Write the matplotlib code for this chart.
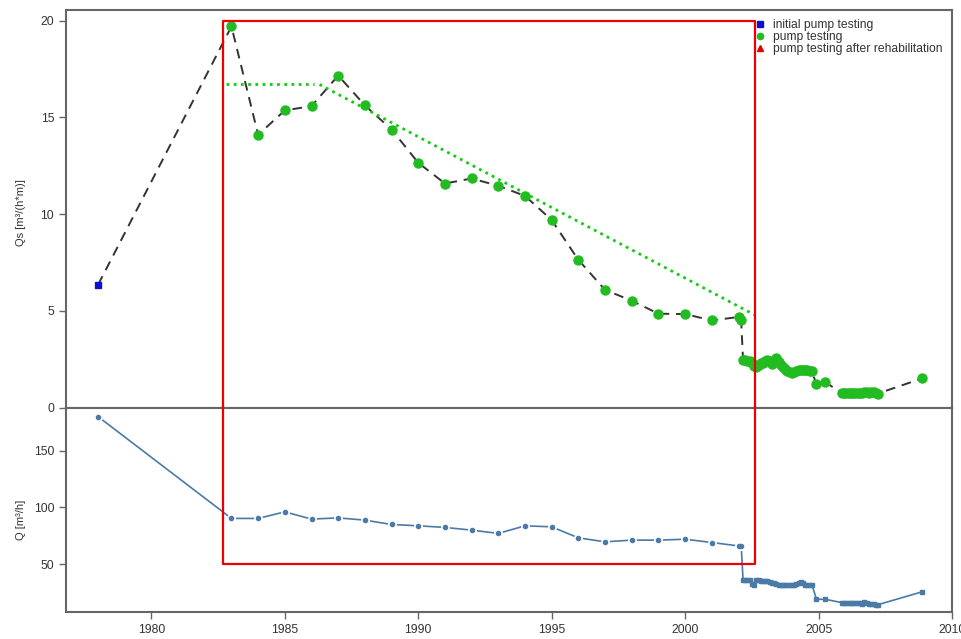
import matplotlib
matplotlib.use("Agg")
import matplotlib.pyplot as plt
from matplotlib.lines import Line2D

plt.rcParams['font.family'] = ['Liberation Sans', 'DejaVu Sans']

# ---- data ----
init_year = [1978.0]
init_qs = [6.34]

yearly_years = [1983, 1984, 1985, 1986, 1987, 1988, 1989, 1990, 1991, 1992, 1993,
                1994, 1995, 1996, 1997, 1998, 1999, 2000, 2001, 2002.0, 2002.1]
yearly_qs = [19.7, 14.1, 15.36, 15.58, 17.16, 15.62, 14.37, 12.65, 11.58, 11.84, 11.46,
             10.94, 9.69, 7.63, 6.08, 5.52, 4.85, 4.83, 4.5, 4.68, 4.5]
yearly_q = [90.3, 90.3, 96.1, 89.7, 90.8, 88.8, 85.0, 83.8, 82.4, 80.0, 77.1,
            83.8, 82.9, 73.2, 69.7, 71.2, 71.2, 72.0, 69.1, 66.1, 66.1]

late_years = [2002.17, 2002.25, 2002.33, 2002.42, 2002.50, 2002.58, 2002.67, 2002.75,
              2002.83, 2002.92, 2003.00, 2003.08, 2003.17, 2003.25, 2003.33, 2003.42,
              2003.50, 2003.58, 2003.67, 2003.75, 2003.83, 2003.92, 2004.00, 2004.08,
              2004.17, 2004.25, 2004.33, 2004.42, 2004.50, 2004.58, 2004.67, 2004.75,
              2004.92, 2005.25, 2005.86, 2005.95, 2006.04, 2006.13, 2006.21, 2006.30,
              2006.38, 2006.47, 2006.55, 2006.64, 2006.72, 2006.81, 2006.89, 2006.98,
              2007.06, 2007.15, 2007.22, 2008.87]
late_qs = [2.47, 2.45, 2.40, 2.42, 2.30, 2.13, 2.10, 2.22,
           2.30, 2.32, 2.38, 2.44, 2.40, 2.27, 2.35, 2.56,
           2.35, 2.22, 2.10, 1.98, 1.90, 1.82, 1.79, 1.83,
           1.87, 1.92, 1.93, 1.92, 1.94, 1.92, 1.88, 1.87,
           1.19, 1.31, 0.76, 0.74, 0.75, 0.76, 0.74, 0.75,
           0.76, 0.77, 0.75, 0.76, 0.80, 0.78, 0.77, 0.79,
           0.82, 0.76, 0.72, 1.50]
late_q = [36.5, 36.5, 36.5, 36.3, 32.5, 32.1, 35.9, 36.0,
          35.6, 35.5, 35.3, 35.3, 34.5, 33.5, 33.0, 32.4,
          32.1, 32.1, 32.1, 32.1, 32.1, 32.1, 32.1, 32.1,
          32.3, 33.0, 33.9, 33.5, 32.1, 32.1, 32.1, 32.1,
          19.1, 19.1, 16.2, 16.2, 16.2, 16.2, 16.2, 16.2,
          16.2, 16.2, 16.2, 15.0, 16.9, 16.0, 15.2, 14.8,
          14.6, 14.5, 14.3, 25.6]
init_q = [180.0]

trend_x = [1982.8, 1986.1]
trend_y = [16.7, 16.7]
trend2_x = [1986.3, 2002.6]
trend2_y = [16.7, 4.79]

box_x = [1982.7, 2002.6]
box_top_qs = 20.0
box_bottom_q = 50.0

legend_labels = ['initial pump testing', 'pump testing', 'pump testing after rehabilitation']

# ---- figure ----
fig = plt.figure(figsize=(9.62, 6.39), dpi=100)
W, H = 962, 639
left, right = 66 / W, 952 / W
ax1 = fig.add_axes([left, 1 - 407.5 / H, right - left, (407.5 - 10) / H])
ax2 = fig.add_axes([left, 1 - 612 / H, right - left, (612 - 407.5) / H], sharex=ax1)

green = '#22bb22'
qcol = '#4a7aa6'
spine_c = '#666666'
txt_c = '#333333'

all_x = init_year + yearly_years + late_years
all_qs = init_qs + yearly_qs + late_qs
ax1.plot(all_x, all_qs, color='#333333', lw=1.4, ls=(0, (5, 3.5)), zorder=2)
ax1.plot(init_year, init_qs, ls='none', marker='s', ms=5, color='#1010cc', zorder=3)
ax1.plot(yearly_years + late_years, yearly_qs + late_qs, ls='none', marker='o', ms=6.5,
         color=green, zorder=3)
ax1.plot(trend_x, trend_y, color='#11cc11', lw=2, ls=(0, (1, 1.6)), zorder=4)
ax1.plot(trend2_x, trend2_y, color='#11cc11', lw=2, ls=(0, (1, 1.6)), zorder=4)

# lower panel
sparse_x = init_year + yearly_years
sparse_q = init_q + yearly_q
ax2.plot(sparse_x + late_years, sparse_q + late_q, color=qcol, lw=1.2, zorder=2)
ax2.plot(sparse_x, sparse_q, ls='none', marker='o', ms=3.0, mfc=qcol, mec='white',
         mew=3.5, zorder=3)
ax2.plot(sparse_x, sparse_q, ls='none', marker='o', ms=3.0, color=qcol, zorder=4)
ax2.plot(late_years, late_q, ls='none', marker='s', ms=3.2, color=qcol, zorder=4)

ax1.set_xlim(1976.8, 2010.0)
ax1.set_ylim(0, 20.55)
q_lo, q_hi = 7.9, 188
ax2.set_ylim(q_lo, q_hi)

# red box across both panels
ax1.plot([box_x[0], box_x[0], box_x[1], box_x[1]], [0, box_top_qs, box_top_qs, 0],
         color='#ee0000', lw=1.6, clip_on=False, zorder=5)
ax2.plot([box_x[0], box_x[0], box_x[1], box_x[1]], [q_hi, box_bottom_q, box_bottom_q, q_hi],
         color='#ee0000', lw=1.6, clip_on=False, zorder=5)

ax1.set_yticks([0, 5, 10, 15, 20])
ax2.set_yticks([50, 100, 150])
ax2.set_xticks([1980, 1985, 1990, 1995, 2000, 2005, 2010])
ax1.tick_params(axis='x', bottom=False, labelbottom=False)

for ax in (ax1, ax2):
    for s in ax.spines.values():
        s.set_color(spine_c)
        s.set_linewidth(1.5)
    ax.tick_params(colors=spine_c, labelcolor=txt_c, labelsize=8.7, length=5, width=1)

ax1.set_ylabel('Qs [m³/(h*m)]', fontsize=8, color=txt_c)
ax2.set_ylabel('Q [m³/h]', fontsize=8, color=txt_c)
ax1.yaxis.set_label_coords(-0.045, 0.49)
ax2.yaxis.set_label_coords(-0.045, 0.45)

handles = [Line2D([], [], ls='none', marker='s', ms=4, color='#1010cc'),
           Line2D([], [], ls='none', marker='o', ms=4.5, color=green),
           Line2D([], [], ls='none', marker='^', ms=5, color='#dd0000')]
leg = ax1.legend(handles, legend_labels, loc='upper right', frameon=False, fontsize=8.7,
                 handlelength=1.0, handletextpad=0.6, labelspacing=0.0,
                 borderaxespad=0.25, borderpad=0.5, labelcolor=txt_c)

fig.savefig('out.png', dpi=100)
